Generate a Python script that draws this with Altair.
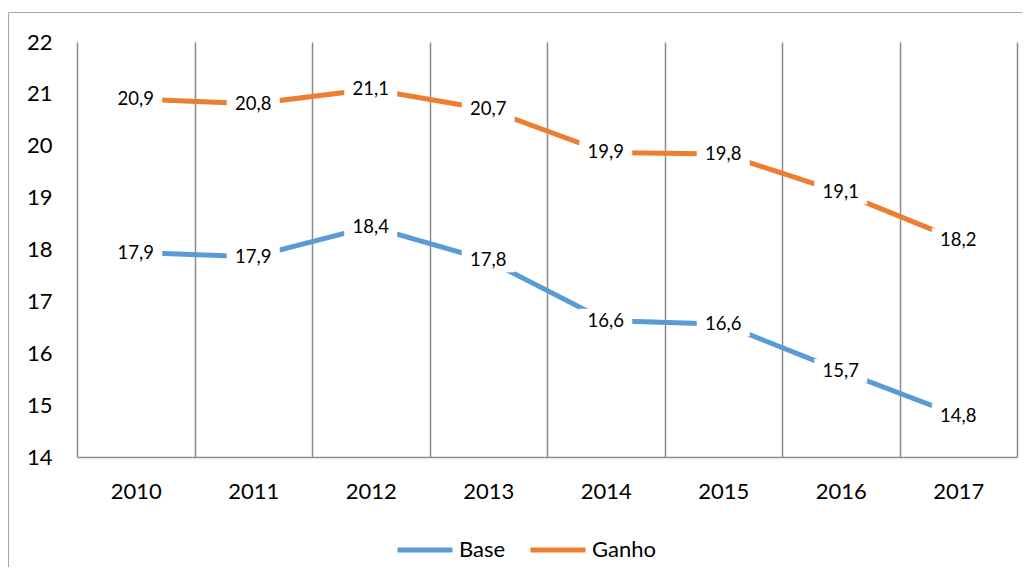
import altair as alt
import pandas as pd

years = ["2010", "2011", "2012", "2013", "2014", "2015", "2016", "2017"]
base_vals = [17.94, 17.86, 18.44, 17.79, 16.63, 16.56, 15.66, 14.80]
ganho_vals = [20.90, 20.81, 21.09, 20.70, 19.87, 19.84, 19.10, 18.18]
base_labels = ["17,9", "17,9", "18,4", "17,8", "16,6", "16,6", "15,7", "14,8"]
ganho_labels = ["20,9", "20,8", "21,1", "20,7", "19,9", "19,8", "19,1", "18,2"]
series_names = ["Base", "Ganho"]
series_colors = ["#5B9BD5", "#ED7D31"]
y_ticks = [14, 15, 16, 17, 18, 19, 20, 21, 22]

rows = []
for name, vals, labs in zip(series_names, [base_vals, ganho_vals],
                            [base_labels, ganho_labels]):
    for y, v, lab in zip(years, vals, labs):
        rows.append({"year": y, "series": name, "value": v, "label": lab})
df = pd.DataFrame(rows)

W, H = 940, 415
FONT = "Lato"

x_enc = alt.X("year:O", sort=years,
              scale=alt.Scale(paddingInner=0, paddingOuter=0),
              axis=alt.Axis(title=None, grid=True, tickBand="extent", ticks=False,
                            labelAngle=0, labelFontSize=22, labelFont=FONT,
                            labelColor="#000000", labelPadding=24,
                            gridColor="#8C8C8C", gridWidth=1.5,
                            domainColor="#8C8C8C", domainWidth=1.5))
y_enc = alt.Y("value:Q",
              scale=alt.Scale(domain=[14, 22], nice=False, zero=False),
              axis=alt.Axis(title=None, values=y_ticks, grid=False, ticks=False,
                            domain=False, labelFontSize=22, labelFont=FONT,
                            labelColor="#000000", labelPadding=25))

base = alt.Chart(df)

lines = base.mark_line(strokeWidth=5, strokeCap="butt").encode(
    x=x_enc, y=y_enc,
    color=alt.Color("series:N",
                    scale=alt.Scale(domain=series_names, range=series_colors),
                    legend=alt.Legend(title=None, orient="none", direction="horizontal",
                                      legendX=318, legendY=478,
                                      symbolType="stroke", symbolSize=3025,
                                      symbolStrokeWidth=5, labelFontSize=22,
                                      labelFont=FONT, labelColor="#000000",
                                      columnPadding=14, labelOffset=4)),
    detail="series:N",
)

boxes = base.mark_point(
    shape="M-1,-0.45L1,-0.45L1,0.45L-1,0.45Z", size=2809,
    filled=True, fill="#FFFFFF", opacity=1, strokeWidth=0,
).encode(x=x_enc, y=y_enc)

texts = base.mark_text(fontSize=18.5, font=FONT, color="#000000").encode(
    x=x_enc, y=y_enc, text="label:N")

left_border = alt.Chart(pd.DataFrame({"k": [0]})).mark_rule(
    color="#A6A6A6", strokeWidth=1).encode(
    x=alt.value(-68.5), y=alt.value(-29.5), y2=alt.value(H + 200))
top_border = alt.Chart(pd.DataFrame({"k": [0]})).mark_rule(
    color="#A6A6A6", strokeWidth=1).encode(
    x=alt.value(-68.5), x2=alt.value(W + 200), y=alt.value(-29.5))

chart = alt.layer(left_border, top_border, lines, boxes, texts).properties(
    width=W, height=H,
    autosize=alt.AutoSizeParams(type="none"),
    padding={"left": 69, "top": 34, "right": 5, "bottom": 110},
).configure_view(stroke=None)

chart.save("out.html", embed_options={"renderer": "svg", "actions": False})
